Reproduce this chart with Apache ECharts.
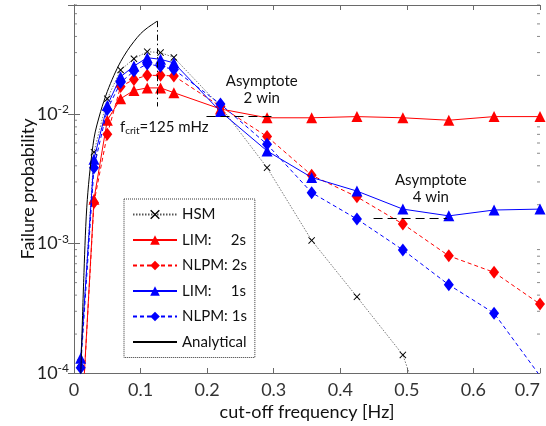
<!DOCTYPE html>
<html><head><meta charset="utf-8">
<script src="https://cdn.jsdelivr.net/npm/echarts@6/dist/echarts.min.js"></script>
<style>html,body{margin:0;padding:0;background:#fff}#c{width:546px;height:426px}</style>
</head><body><div id="c"></div>
<script>
// ---- data ----
const freq = [0.01,0.03,0.05,0.07,0.09,0.11,0.13,0.15,0.22,0.29,0.357,0.425,0.494,0.563,0.631,0.7];
const hsmFreq = [0.01,0.03,0.05,0.07,0.09,0.11,0.13,0.15,0.22,0.29,0.357,0.425,0.494,0.563];
const hsm     = [1.2e-4,5.1e-3,1.32e-2,2.2e-2,2.69e-2,3.05e-2,3.0e-2,2.75e-2,1.15e-2,3.87e-3,1.06e-3,3.88e-4,1.38e-4,1.3e-5];
const lim2s   = [3e-5,2.2e-3,9.0e-3,1.32e-2,1.53e-2,1.6e-2,1.6e-2,1.47e-2,1.1e-2,9.4e-3,9.4e-3,9.6e-3,9.4e-3,9.0e-3,9.6e-3,9.6e-3];
const nlpm2s  = [3e-5,2.08e-3,7.0e-3,1.64e-2,1.86e-2,2.0e-2,2.0e-2,1.98e-2,1.15e-2,6.73e-3,3.38e-3,2.3e-3,1.42e-3,8.05e-4,6.0e-4,3.41e-4];
const lim1s   = [1.3e-4,4.5e-3,1.17e-2,1.95e-2,2.36e-2,2.74e-2,2.66e-2,2.5e-2,1.05e-2,5.21e-3,3.25e-3,2.55e-3,1.85e-3,1.64e-3,1.82e-3,1.85e-3];
const nlpm1s  = [1.1e-4,3.87e-3,1.09e-2,1.76e-2,2.16e-2,2.45e-2,2.35e-2,2.22e-2,1.2e-2,5.86e-3,2.48e-3,1.55e-3,8.95e-4,4.81e-4,2.9e-4,9.5e-5];
const anaFreq = [0.01,0.015,0.02,0.03,0.04,0.05,0.06,0.07,0.08,0.09,0.1,0.11,0.125];
const analytical = [9e-5,6e-4,2.2e-3,6.5e-3,1.05e-2,1.5e-2,2.0e-2,2.55e-2,3.1e-2,3.65e-2,4.2e-2,4.65e-2,5.25e-2];
const seriesNames = ['HSM','LIM:     2s','NLPM: 2s','LIM:     1s','NLPM: 1s','Analytical'];
const fCrit = 0.125, fCritTop = 5.25e-2, fCritBottom = 1.15e-2;
const asym2 = {from: 0.199, to: 0.297, level: 9.65e-3};
const asym4 = {from: 0.45, to: 0.56, level: 1.57e-3};
const xTicks = {min: 0, max: 0.7, step: 0.1};
const yRange = {min: 1e-4, max: 0.07};
const yMinorTicks = [2e-4,3e-4,4e-4,5e-4,6e-4,7e-4,8e-4,9e-4,2e-3,3e-3,4e-3,5e-3,6e-3,7e-3,8e-3,9e-3,2e-2,3e-2,4e-2,5e-2,6e-2,7e-2];

const zip = (xs, ys) => xs.map((x, i) => [x, ys[i]]);
const FONT = 'Lato';
const RED = '#ff0000', BLUE = '#0000ff';
const xPath = 'path://M0,1L1,0L5,4L9,0L10,1L6,5L10,9L9,10L5,6L1,10L0,9L4,5Z';
const AXC = '#6a6a6a';

const chart = echarts.init(document.getElementById('c'), null, {renderer: 'canvas'});
const axisLineStyle = {color: AXC, width: 1};
const minorTickSeries = (xEdge, off) => ({
  type: 'scatter', silent: true, data: yMinorTicks.map(v => [xEdge, v]),
  symbol: 'rect', symbolSize: [3, 1], symbolOffset: [off, 0], itemStyle: {color: AXC}, z: 1, clip: false
});
const option = {
  animation: false,
  textStyle: {fontFamily: FONT},
  grid: {left: 74, right: 6, top: 5, bottom: 52, containLabel: false},
  legend: {
    orient: 'vertical', left: 124, top: 199, itemWidth: 44, itemHeight: 12, itemGap: 10.5,
    padding: [8, 8, 8, 8], borderColor: '#333', borderWidth: 1, borderType: 'dotted',
    textStyle: {fontFamily: FONT, fontSize: 15, color: '#111'},
    data: seriesNames.slice(0, 5).concat([{name: seriesNames[5], itemStyle: {opacity: 0}}])
  },
  xAxis: [{
    type: 'value', min: xTicks.min, max: xTicks.max, interval: xTicks.step,
    name: 'cut-off frequency [Hz]', nameLocation: 'middle', nameGap: 30, nameMoveOverlap: false,
    nameTextStyle: {fontSize: 18, color: '#111', fontFamily: FONT},
    axisLine: {lineStyle: axisLineStyle}, axisTick: {inside: true, length: 5, lineStyle: axisLineStyle},
    axisLabel: {fontSize: 18, color: '#333', margin: 8, formatter: v => String(+v.toFixed(1)), alignMaxLabel: 'right'},
    splitLine: {show: false}
  }, {
    type: 'value', position: 'top', min: xTicks.min, max: xTicks.max, interval: xTicks.step,
    axisLine: {lineStyle: axisLineStyle}, axisTick: {inside: true, length: 5, lineStyle: axisLineStyle},
    axisLabel: {show: false}, splitLine: {show: false}
  }],
  yAxis: [{
    type: 'log', logBase: 10, min: yRange.min, max: yRange.max,
    name: 'Failure probability', nameLocation: 'middle', nameGap: 37, nameMoveOverlap: false,
    nameTextStyle: {fontSize: 18, color: '#111', fontFamily: FONT},
    axisLine: {lineStyle: axisLineStyle},
    axisTick: {inside: true, length: 6, lineStyle: axisLineStyle},
    axisLabel: {
      showMaxLabel: false, margin: 5,
      formatter: v => '{b|10}{s|' + Math.round(Math.log10(v)) + '}',
      rich: {b: {fontSize: 18, color: '#222', fontFamily: FONT}, s: {fontSize: 12, color: '#222', fontFamily: FONT, verticalAlign: 'top', padding: [0, 0, 10, 0]}}
    },
    splitLine: {show: false}
  }, {
    type: 'log', logBase: 10, min: yRange.min, max: yRange.max, position: 'right',
    axisLine: {lineStyle: axisLineStyle},
    axisTick: {inside: true, length: 6, lineStyle: axisLineStyle},
    axisLabel: {show: false}, splitLine: {show: false}
  }],
  series: [
    minorTickSeries(xTicks.min, 1.5),
    minorTickSeries(xTicks.max, -1.5),
    {name: seriesNames[0], type: 'line', data: zip(hsmFreq, hsm), symbol: xPath, symbolSize: 7,
     itemStyle: {color: '#000'}, lineStyle: {color: '#555', width: 0.8, type: [1.5, 1.5]}, z: 2},
    {name: seriesNames[1], type: 'line', data: zip(freq, lim2s), symbol: 'triangle', symbolSize: 11,
     itemStyle: {color: RED}, lineStyle: {color: RED, width: 1}, z: 3},
    {name: seriesNames[2], type: 'line', data: zip(freq, nlpm2s), symbol: 'diamond', symbolSize: [10, 13],
     itemStyle: {color: RED}, lineStyle: {color: RED, width: 1, type: [4, 3]}, z: 3},
    {name: seriesNames[3], type: 'line', data: zip(freq, lim1s), symbol: 'triangle', symbolSize: 11,
     itemStyle: {color: BLUE}, lineStyle: {color: BLUE, width: 1}, z: 4},
    {name: seriesNames[4], type: 'line', data: zip(freq, nlpm1s), symbol: 'diamond', symbolSize: [10, 13],
     itemStyle: {color: BLUE}, lineStyle: {color: BLUE, width: 1, type: [4, 3]}, z: 4},
    {name: seriesNames[5], type: 'line', data: zip(anaFreq, analytical), symbol: 'none', smooth: 0.3,
     itemStyle: {color: '#000'}, lineStyle: {color: '#000', width: 1}, z: 5,
     markLine: {
       silent: true, symbol: ['none', 'none'], label: {show: false}, animation: false,
       data: [
         [{coord: [fCrit, fCritTop], lineStyle: {color: '#000', width: 1, type: [6, 3, 1.5, 3]}}, {coord: [fCrit, fCritBottom]}],
         [{coord: [asym2.from, asym2.level], lineStyle: {color: '#000', width: 1.2, type: [9, 5]}}, {coord: [asym2.to, asym2.level]}],
         [{coord: [asym4.from, asym4.level], lineStyle: {color: '#000', width: 1.2, type: [9, 5]}}, {coord: [asym4.to, asym4.level]}]
       ]
     }}
  ]
};
chart.setOption(option);

// annotations anchored to data coordinates
const p = (x, y) => chart.convertToPixel({xAxisIndex: 0, yAxisIndex: 0}, [x, y]);
const a2 = p(0.282, 1.55e-2), a4 = p(0.536, 2.65e-3), fc = p(0.069, 7.9e-3);
chart.setOption({graphic: [
  {type: 'text', x: a2[0], y: a2[1], style: {text: 'Asymptote\n2 win', font: '15px ' + FONT, fill: '#111', align: 'center', verticalAlign: 'middle', lineHeight: 17}},
  {type: 'text', x: a4[0], y: a4[1], style: {text: 'Asymptote\n4 win', font: '15px ' + FONT, fill: '#111', align: 'center', verticalAlign: 'middle', lineHeight: 17}},
  {type: 'text', x: fc[0], y: fc[1], style: {
    text: '{a|f}{s|crit}{a|=125 mHz}', fill: '#111', verticalAlign: 'middle',
    rich: {a: {fontSize: 15, fontFamily: FONT, fill: '#111'}, s: {fontSize: 10, fontFamily: FONT, fill: '#111', verticalAlign: 'bottom', padding: [6, 0, 0, 0]}}
  }}
]});
</script>
</body></html>
